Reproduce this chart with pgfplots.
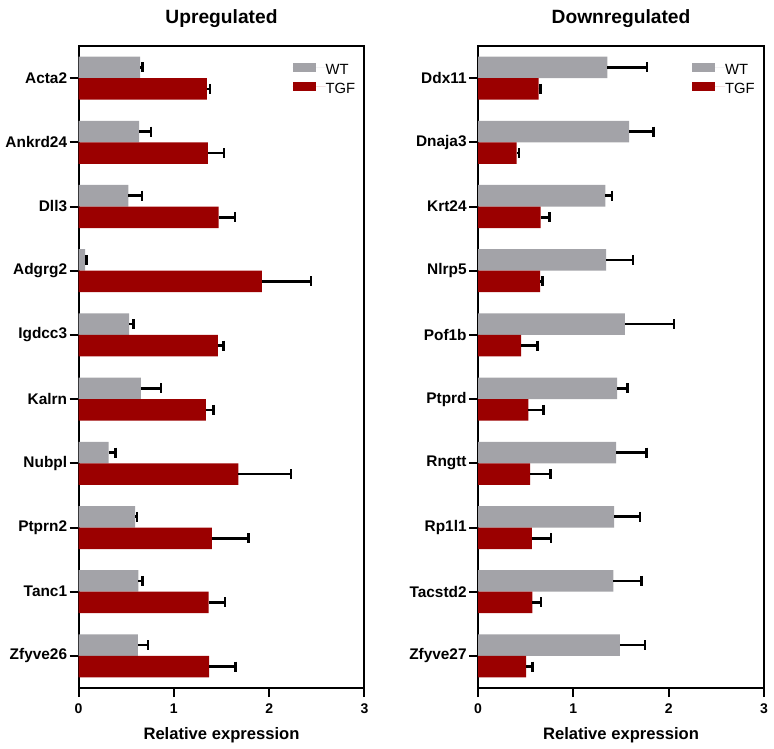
\documentclass[border=0pt]{standalone}
\usepackage{pgfplots}
\usepackage{pgfplotstable}
\pgfplotsset{compat=1.18}
\usepackage{fontspec}
\setmainfont{Liberation Sans}
\definecolor{wtgray}{RGB}{163,163,168}
\definecolor{tgfred}{RGB}{155,0,0}

\pgfplotstableread{
pos wt wterr tgf tgferr
1 0.647 0.023 1.346 0.034
2 0.636 0.123 1.357 0.171
3 0.524 0.140 1.469 0.174
4 0.070 0.017 1.923 0.514
5 0.531 0.046 1.462 0.059
6 0.654 0.210 1.336 0.080
7 0.315 0.073 1.678 0.549
8 0.594 0.018 1.399 0.384
9 0.629 0.042 1.364 0.174
10 0.622 0.105 1.371 0.279
}\updata

\pgfplotstableread{
pos wt wterr tgf tgferr
1 1.358 0.413 0.637 0.021
2 1.586 0.252 0.406 0.024
3 1.337 0.067 0.658 0.095
4 1.344 0.280 0.651 0.025
5 1.540 0.515 0.452 0.171
6 1.460 0.105 0.529 0.161
7 1.449 0.319 0.546 0.214
8 1.428 0.270 0.564 0.203
9 1.421 0.291 0.571 0.091
10 1.488 0.262 0.504 0.067
}\downdata

\pgfplotsset{
  panel/.style={
    scale only axis, width=143pt, height=321pt,
    xbar, y dir=reverse,
    xmin=0, xmax=3, ymin=0.5, ymax=10.5, enlargelimits=false,
    xtick={0,1,2,3}, ytick={1,...,10},
    axis line style={line width=1pt, black},
    tick style={line width=1pt, black},
    major tick length=4.5pt, tick align=outside,
    xtick pos=bottom, ytick pos=left,
    /pgf/number format/assume math mode=true,
    xticklabel style={font=\bfseries\fontsize{7}{8}\selectfont},
    yticklabel style={font=\bfseries\fontsize{7.7}{9}\selectfont, inner sep=1pt},
    bar width=0.335,
    title style={font=\bfseries\fontsize{9.6}{11}\selectfont, at={(0.5,1)}, anchor=base, yshift=5pt},
    xlabel={Relative expression},
    xlabel style={font=\bfseries\fontsize{8.3}{10}\selectfont, at={(0.5,0)}, anchor=base, yshift=-25.5pt},
    legend image code/.code={\fill[##1] (0pt,-2.25pt) rectangle (11.5pt,2.25pt);
      \path (0pt,0pt) -- (16.5pt,0pt);},
    legend style={draw=none, fill=none, at={(0.747,0.977)}, anchor=north west, inner sep=0pt,
      font=\fontsize{7.4}{8}\selectfont, row sep=3pt,
      nodes={inner sep=0pt, text height=6.5pt, text depth=0pt}},
    legend cell align=left,
  },
  wtbar/.style={fill=wtgray, draw=none, bar shift=-0.1675,
    error bars/.cd, x dir=plus, x explicit,
    error bar style={line width=1.3pt, black},
    error mark options={line width=1.3pt, mark size=2.5pt, black, rotate=90}},
  tgfbar/.style={fill=tgfred, draw=none, bar shift=0.1675,
    error bars/.cd, x dir=plus, x explicit,
    error bar style={line width=1.3pt, black},
    error mark options={line width=1.3pt, mark size=2.5pt, black, rotate=90}},
}

\begin{document}
\begin{tikzpicture}
\path[use as bounding box] (-39.25pt,-30pt) rectangle (347.75pt,344pt);
\begin{axis}[panel, at={(0pt,0pt)}, anchor=south west,
  title={Upregulated},
  yticklabels={Acta2,Ankrd24,Dll3,Adgrg2,Igdcc3,Kalrn,Nubpl,Ptprn2,Tanc1,Zfyve26}]
\addplot[wtbar] table[y=pos, x=wt, x error=wterr] {\updata};
\addplot[tgfbar] table[y=pos, x=tgf, x error=tgferr] {\updata};
\legend{WT,TGF}
\end{axis}
\begin{axis}[panel, at={(199.75pt,0pt)}, anchor=south west,
  title={Downregulated},
  yticklabels={Ddx11,Dnaja3,Krt24,Nlrp5,Pof1b,Ptprd,Rngtt,Rp1l1,Tacstd2,Zfyve27}]
\addplot[wtbar] table[y=pos, x=wt, x error=wterr] {\downdata};
\addplot[tgfbar] table[y=pos, x=tgf, x error=tgferr] {\downdata};
\legend{WT,TGF}
\end{axis}
\end{tikzpicture}
\end{document}
